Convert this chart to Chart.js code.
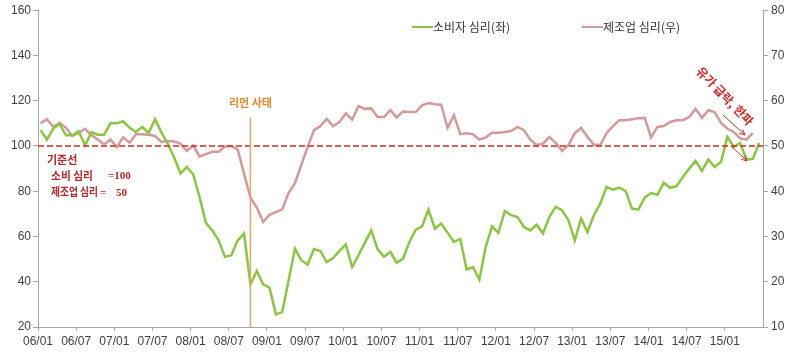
<!DOCTYPE html>
<html><head><meta charset="utf-8">
<script src="https://cdn.jsdelivr.net/npm/chart.js@4.4.1/dist/chart.umd.min.js"></script>
<style>html,body{margin:0;padding:0;background:#fff}</style>
</head><body>
<canvas id="c" width="800" height="357"></canvas>
<script>
// ---- data ----
const tickLabels = ['06/01','06/07','07/01','07/07','08/01','08/07','09/01','09/07','10/01','10/07',
  '11/01','11/07','12/01','12/07','13/01','13/07','14/01','14/07','15/01'];
// consumer sentiment (left axis), monthly from 06/01 to 15/06
const consumer = [107,102.8,107.7,109.6,104.7,104.7,106.5,100.3,106,105,
  105,110,110,111,108,106.2,108.4,105.8,111.8,106,
  101,95,87.8,90.7,87.5,77.5,66,62.7,58.3,51,
  51.7,58.3,61.3,38.9,44.8,38.9,37.4,25.6,26.6,40.6,
  54.6,49.5,47.6,54.5,53.6,48.7,50.5,53.6,56.5,46.5,
  51.7,57.3,62.7,54.3,51,53.2,48.4,50.2,57.6,63,
  64.5,71.9,63.5,65.7,61.7,57.6,58.9,45.4,46.5,40.9,
  55.4,64.5,61.6,71.3,69.4,68.6,64.2,62.7,65.2,61.3,
  68.6,73.1,71.6,67.2,58.3,67.9,62,69.4,74.5,81.9,
  80.7,81.6,80.1,72.3,71.9,77.2,79.2,78.5,83.7,81.5,
  82.2,86.3,90,93.4,89,94,90.7,93,104,99.6,
  101.3,94,94.3,101.3];
// manufacturing sentiment (right axis), monthly from 06/01 to 15/05
const manufacturing = [55,55.9,54.2,55.1,54,52.2,52.9,53.8,52.4,51.4,
  50.4,51.4,49.8,51.9,50.7,52.6,52.6,52.5,52.2,50.9,
  51.1,51,50.5,48.9,50.1,47.7,48.2,48.7,48.7,49.9,
  50,49.2,43.9,38.6,36.4,33.2,34.8,35.4,36,39.6,
  41.8,45.8,49.8,53.5,54.4,56,54.4,55.3,57.2,55.8,
  58.8,58.2,58.3,56.4,56.4,57.9,56.3,57.6,57.5,57.5,
  59,59.5,59.2,59.1,54,56.8,52.6,52.8,52.6,51.4,
  51.9,52.9,52.9,53.1,53.3,54.2,53.5,51.4,50.2,50.5,
  52,50.7,48.9,50.2,52.8,54,52,50.3,50.2,52.8,
  54.4,55.7,55.7,55.9,56.1,56.2,51.9,54.2,54.4,55.3,
  55.7,55.7,56.4,58.2,56.2,57.9,57.5,55.1,53.8,53.1,
  51.7,51.4,52.9];
const baselineLeft = 100;
const lehmanMonth = 33;
const seriesNames = ['소비자 심리(좌)', '제조업 심리(우)'];

const xOffset = 0.4;
const GREEN = '#8CC63F', PINK = '#D49A9A', AXIS = '#A6A6A6';

const annot = {
  id: 'annot',
  afterDatasetsDraw(chart) {
    const ctx = chart.ctx, a = chart.chartArea, sx = chart.scales.x, sy = chart.scales.y;
    ctx.save();
    // baseline
    const yb = sy.getPixelForValue(baselineLeft);
    ctx.strokeStyle = '#D42A24'; ctx.lineWidth = 1.5; ctx.setLineDash([6,3]);
    ctx.beginPath(); ctx.moveTo(a.left, yb); ctx.lineTo(a.right, yb); ctx.stroke();
    ctx.setLineDash([]);
    // Lehman line
    const xl = sx.getPixelForValue(lehmanMonth + xOffset);
    ctx.strokeStyle = '#DDA86A'; ctx.lineWidth = 1.5;
    ctx.beginPath(); ctx.moveTo(xl, sy.getPixelForValue(112.5)); ctx.lineTo(xl, a.bottom); ctx.stroke();
    ctx.fillStyle = '#E08A32'; ctx.font = "bold 11px 'Noto Sans CJK KR'";
    ctx.textAlign = 'center'; ctx.textBaseline = 'middle';
    ctx.fillText('리먼 사태', xl, 103);
    // baseline notes
    ctx.fillStyle = '#B8262A'; ctx.textAlign = 'left';
    ctx.font = "bold 11px 'Noto Sans CJK KR'";
    ctx.fillText('기준선', 47, 160, 32);
    ctx.fillText('소비 심리', 51, 175.5, 42);
    ctx.fillText('제조업 심리', 51, 192, 47);
    ctx.font = "bold 11px 'Liberation Serif'";
    ctx.fillText('=100', 108, 176.5);
    ctx.fillText('=', 100, 193);
    ctx.fillText('50', 116, 193);
    // rotated note
    ctx.save();
    ctx.translate(725, 96); ctx.rotate(46 * Math.PI / 180);
    ctx.fillStyle = '#D82020'; ctx.font = "bold 12px 'Noto Sans CJK KR'";
    ctx.textAlign = 'center';
    ctx.fillText('유가 급락, 한파', 0, 0);
    ctx.restore();
    // arrows
    const arrow = (x1,y1,x2,y2) => {
      ctx.strokeStyle = '#C8302C'; ctx.lineWidth = 1;
      ctx.beginPath(); ctx.moveTo(x1,y1); ctx.lineTo(x2,y2); ctx.stroke();
      const ang = Math.atan2(y2-y1, x2-x1), L = 6;
      ctx.beginPath();
      ctx.moveTo(x2 - L*Math.cos(ang-0.45), y2 - L*Math.sin(ang-0.45));
      ctx.lineTo(x2, y2);
      ctx.lineTo(x2 - L*Math.cos(ang+0.45), y2 - L*Math.sin(ang+0.45));
      ctx.stroke();
    };
    arrow(723,115,745,135);
    arrow(731,146,747,161);
    // legend
    ctx.lineWidth = 2;
    ctx.font = "12px 'Noto Sans CJK KR'"; ctx.fillStyle = '#333'; ctx.textAlign = 'left';
    ctx.strokeStyle = GREEN; ctx.beginPath(); ctx.moveTo(412,27); ctx.lineTo(433,27); ctx.stroke();
    ctx.fillText(seriesNames[0], 433, 27);
    ctx.strokeStyle = PINK; ctx.beginPath(); ctx.moveTo(582,27); ctx.lineTo(603,27); ctx.stroke();
    ctx.fillText(seriesNames[1], 603, 27);
    ctx.restore();
  }
};

Chart.defaults.font.family = "'Liberation Sans', Arial, sans-serif";
Chart.defaults.font.size = 12;
Chart.defaults.color = '#404040';

const axisCommon = {
  grid: { display: true, drawOnChartArea: false, drawTicks: true, tickLength: 5, color: AXIS },
  border: { display: true, color: AXIS, width: 1 }
};

new Chart(document.getElementById('c'), {
  type: 'line',
  data: {
    datasets: [
      { label: seriesNames[0], data: consumer.map((v,i)=>({x:i+xOffset,y:v})), yAxisID: 'y',
        borderColor: GREEN, borderWidth: 2.5, pointRadius: 0, tension: 0 },
      { label: seriesNames[1], data: manufacturing.map((v,i)=>({x:i+xOffset,y:v})), yAxisID: 'y2',
        borderColor: PINK, borderWidth: 2.5, pointRadius: 0, tension: 0 }
    ]
  },
  options: {
    responsive: false, animation: false, devicePixelRatio: 1,
    layout: { padding: { top: 10, left: 0, right: 0, bottom: 0 } },
    plugins: { legend: { display: false }, tooltip: { enabled: false } },
    scales: {
      x: { type: 'linear', min: 0, max: 114, ...axisCommon,
        grid: { ...axisCommon.grid, tickLength: 4 },
        afterBuildTicks: (ax) => { ax.ticks = tickLabels.map((_,k)=>({value:k*6})); },
        afterFit: (s) => { s.height = 30; },
        ticks: { autoSkip: false, maxRotation: 0, padding: 3,
          callback: (v) => tickLabels[Math.round(v/6)] } },
      y: { position: 'left', min: 20, max: 160, ...axisCommon,
        afterFit: (s) => { s.width = 38; },
        ticks: { stepSize: 20, padding: 2 } },
      y2: { position: 'right', min: 10, max: 80, ...axisCommon,
        afterFit: (s) => { s.width = 37; },
        ticks: { stepSize: 10, padding: 3 } }
    }
  },
  plugins: [annot]
});
</script>
</body></html>
